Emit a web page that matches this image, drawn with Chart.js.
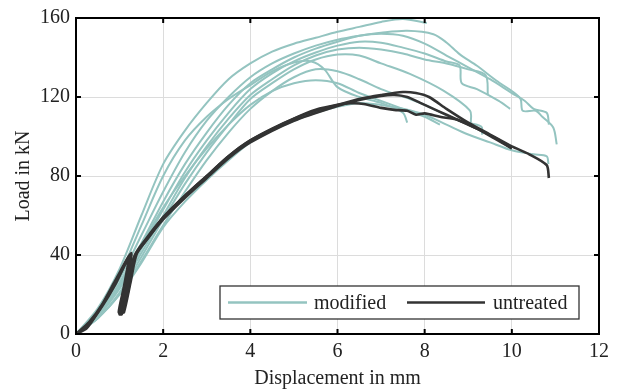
<!DOCTYPE html>
<html>
<head>
<meta charset="utf-8">
<script src="https://cdn.jsdelivr.net/npm/chart.js@4"></script>
<style>
  html, body { margin: 0; padding: 0; background: #fff; }
  #wrap { width: 619px; height: 391px; }
</style>
</head>
<body>
<div id="wrap"><canvas id="loadChart" width="619" height="391"></canvas></div>
<script>
// tick labels / axis ranges
const xTicks = [0, 2, 4, 6, 8, 10, 12];
const yTicks = [0, 40, 80, 120, 160];

// modified specimens: [displacement mm, load kN]
const mod1 = [[0,0],[0.5,13],[1,33],[1.5,60],[2,86],[2.5,103],[3,117],[3.5,129],[4,137],[4.5,143],[5,147],[5.5,150],[6,153],[6.5,155.5],[7,158],[7.5,159.5],[8.05,157.5]];
const mod2 = [[0,0],[0.5,11],[1,28],[1.5,50],[2,72],[2.5,92],[3,108],[3.5,120],[4,130],[4.5,137],[5,142],[5.5,146],[6,149],[6.5,151],[7,152.5],[7.6,153.5],[8.2,151.8],[8.5,147.6],[8.8,141.7],[9.2,135.8],[9.65,128.2],[10,123],[10.2,119],[10.25,113],[10.55,113],[10.7,110],[10.95,104.6],[11.03,96]];
const mod3 = [[0,0],[0.5,10],[1,26],[1.5,46],[2,67],[2.5,86],[3,102],[3.5,116],[4,127],[4.5,134],[5,140],[5.5,144.5],[6,148],[6.5,151],[7,152],[7.5,151],[8,147],[8.5,141],[9,135],[9.5,129],[10,122],[10.3,118],[10.5,114],[10.8,112],[10.85,106]];
const mod4 = [[0,0],[0.5,9],[1,24],[1.5,43],[2,63],[2.5,82],[3,98],[3.5,112],[4,124],[4.5,132],[5,138],[5.5,142.5],[6,146],[6.5,148],[7,147.5],[7.5,145],[8,142],[8.5,138],[8.8,136],[8.85,127],[9.2,124],[9.7,118],[9.96,114]];
const mod5 = [[0,0],[0.5,9],[1,23],[1.5,41],[2,60],[2.5,79],[3,95],[3.5,109],[4,121],[4.5,129],[5,136],[5.5,141],[6,144],[6.5,145],[7,144],[7.5,142],[8,139],[8.5,137],[9,134],[9.4,131],[9.45,121]];
const mod6 = [[0,0],[0.5,8],[1,21],[1.5,39],[2,58],[2.5,76],[3,92],[3.5,106],[4,119],[4.5,127],[5,134],[5.5,139],[6,141.5],[6.5,141],[7,137],[7.66,131.7],[8.43,123.2],[9.04,113.1],[9.06,107]];
const mod7 = [[0,0],[0.5,12],[1,30],[1.5,55],[2,80],[2.5,98],[3,110],[3.5,119],[4,126],[4.5,133],[5,137.5],[5.4,138],[5.7,134],[6,125],[6.5,120],[7,117],[7.5,112],[7.6,107]];
const mod8 = [[0,0],[0.5,8],[1,20],[1.5,37],[2,55],[2.5,72],[3,88],[3.5,102],[4,114],[4.5,123],[5,130],[5.5,134],[6,133],[6.5,129],[7,124],[7.66,119],[8,116],[8.8,108],[9.3,105],[9.32,101]];
const mod9 = [[0,0],[0.5,8],[1,20],[1.5,36],[2,54],[2.5,67],[3,78],[3.5,88],[4,97],[4.5,103],[5,108],[5.5,112],[6,115],[6.5,117],[7,116],[7.5,114],[8,111],[8.5,106],[9,101],[9.5,97],[10,93],[10.5,91],[10.8,90],[10.84,86]];
const mod10 = [[0,0],[0.5,10],[1,25],[1.5,45],[2,64],[2.5,80],[3,94],[3.5,106],[4,116],[4.5,123],[5,127],[5.5,128.5],[6,127],[6.5,122],[7,118],[7.5,114],[8,110],[8.35,106]];

// untreated specimens
const unt1 = [[0,0],[0.25,3],[0.5,11],[0.75,20],[1,30],[1.25,40],[1.15,25],[1.05,15],[1,10],[1.07,11],[1.2,25],[1.35,40],[1.6,48],[2,59],[2.5,70],[3,80],[3.5,90],[4,98],[4.5,104],[5,109],[5.5,113],[6,116],[6.5,119],[7,121],[7.5,122.5],[7.8,122],[8.1,120],[8.5,114],[9,107],[9.5,101],[10,95],[10.4,91],[10.8,85.5],[10.85,79]];
const unt2 = [[0,0],[0.3,5],[0.6,14],[0.9,25],[1.2,38],[1.1,24],[0.98,11],[1.05,10],[1.2,22],[1.32,38],[1.6,47],[2,58],[2.5,69],[3,79],[3.5,89],[4,97],[5,108],[6,115.5],[6.5,118.5],[7,120.5],[7.3,121],[7.6,120],[7.9,117],[8.3,113],[8.7,109],[9.2,104],[9.6,99],[10,94]];
const unt3 = [[0,0],[0.3,6],[0.6,15],[0.9,27],[1.27,41],[1.15,25],[1.05,12],[1.1,11],[1.25,26],[1.4,41],[1.7,50],[2,59],[2.5,70],[3,80],[3.5,90],[4,98],[5,109],[5.5,113.5],[6,116],[6.3,116.8],[6.6,116.5],[7,114.5],[7.3,113.5],[7.6,113],[7.8,111],[8,111.7],[8.35,110],[8.75,108.5],[9.2,104],[9.6,99.5],[10,94]];

const modifiedRuns = [mod1, mod2, mod3, mod4, mod5, mod6, mod7, mod8, mod9, mod10];
const untreatedRuns = [unt1, unt2, unt3];

const teal = '#94c4c0';
const dark = '#333333';
const fontFam = '"Liberation Serif", "DejaVu Serif", serif';

const toPts = run => run.map(p => ({x: p[0], y: p[1]}));

const datasets = [];
modifiedRuns.forEach(run => {
  datasets.push({
    label: 'modified', data: toPts(run), showLine: true, tension: 0.3,
    borderColor: teal, borderWidth: 2, pointRadius: 0, order: 1
  });
});
untreatedRuns.forEach(run => {
  datasets.push({
    label: 'untreated', data: toPts(run), showLine: true, tension: 0.25,
    borderColor: dark, borderWidth: 2.6, pointRadius: 0, order: 0
  });
});

// frame, inward ticks and legend box
const framePlugin = {
  id: 'frame',
  afterDraw(chart) {
    const {ctx, chartArea: {left, right, top, bottom}, scales: {x, y}} = chart;
    ctx.save();
    ctx.strokeStyle = '#000';
    ctx.lineWidth = 2;
    ctx.strokeRect(left, top, right - left, bottom - top);
    ctx.beginPath();
    xTicks.forEach(v => {
      const px = x.getPixelForValue(v);
      ctx.moveTo(px, bottom); ctx.lineTo(px, bottom - 5);
      ctx.moveTo(px, top); ctx.lineTo(px, top + 5);
    });
    yTicks.forEach(v => {
      const py = y.getPixelForValue(v);
      ctx.moveTo(left, py); ctx.lineTo(left + 5, py);
      ctx.moveTo(right, py); ctx.lineTo(right - 5, py);
    });
    ctx.stroke();

    // legend
    const bx = 220, by = 286, bw = 359, bh = 33;
    ctx.fillStyle = '#fff';
    ctx.fillRect(bx, by, bw, bh);
    ctx.strokeStyle = '#333';
    ctx.lineWidth = 1.3;
    ctx.strokeRect(bx, by, bw, bh);
    const ly = by + bh / 2;
    ctx.lineWidth = 2.6;
    ctx.strokeStyle = teal;
    ctx.beginPath(); ctx.moveTo(228, ly); ctx.lineTo(307, ly); ctx.stroke();
    ctx.strokeStyle = dark;
    ctx.beginPath(); ctx.moveTo(407, ly); ctx.lineTo(485, ly); ctx.stroke();
    ctx.fillStyle = '#222';
    ctx.font = '20px ' + fontFam;
    ctx.textBaseline = 'middle';
    ctx.fillText('modified', 314, ly + 1);
    ctx.fillText('untreated', 493, ly + 1);
    ctx.restore();
  }
};

const config = {
  type: 'scatter',
  data: { datasets },
  options: {
    responsive: false,
    animation: false,
    layout: { padding: { left: 0, right: 20, top: 17, bottom: 0 } },
    plugins: { legend: { display: false }, tooltip: { enabled: false } },
    scales: {
      x: {
        type: 'linear', min: 0, max: 12,
        afterFit: s => { s.height = 57; },
        afterBuildTicks: s => { s.ticks = xTicks.map(v => ({value: v})); },
        grid: { color: '#dcdcdc', lineWidth: 1, drawTicks: false },
        border: { display: false },
        ticks: { padding: 6, color: '#222', font: { family: fontFam, size: 20 } },
        title: { display: true, text: 'Displacement in mm', color: '#222', padding: { top: 0, bottom: 0 },
                 font: { family: fontFam, size: 20 } }
      },
      y: {
        type: 'linear', min: 0, max: 160,
        afterFit: s => { s.width = 76; },
        afterBuildTicks: s => { s.ticks = yTicks.map(v => ({value: v})); },
        grid: { color: '#dcdcdc', lineWidth: 1, drawTicks: false },
        border: { display: false },
        ticks: { padding: 6, color: '#222', font: { family: fontFam, size: 20 } },
        title: { display: true, text: 'Load in kN', color: '#222', padding: { top: 12, bottom: 0 },
                 font: { family: fontFam, size: 20 } }
      }
    }
  },
  plugins: [framePlugin]
};

var loadChart = new Chart(document.getElementById('loadChart').getContext('2d'), config);
</script>
</body>
</html>
